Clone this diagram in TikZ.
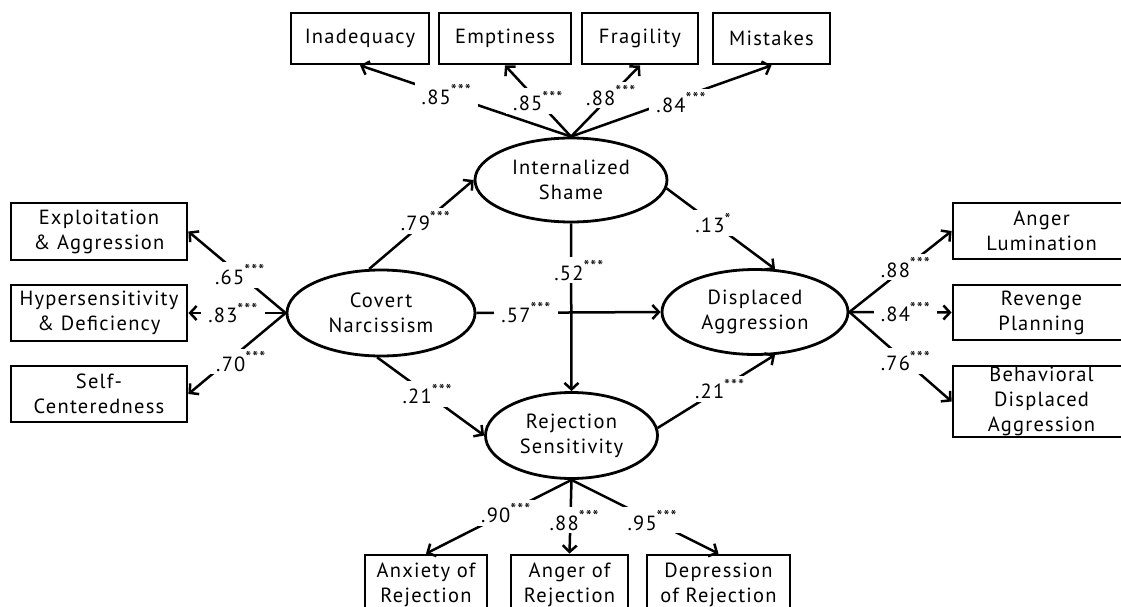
\documentclass[tikz,border=0pt]{standalone}
\usepackage{fontspec}
\setmainfont{PT Sans}[LetterSpace=6]
\usetikzlibrary{shapes.geometric,arrows.meta}
\tikzset{
  obs/.style={draw, line width=2.8pt, align=center, inner sep=0pt, font=\fontsize{20.5}{25}\selectfont},
  lat/.style={ellipse, draw, line width=2.8pt, align=center, inner sep=0pt, font=\fontsize{20.5}{25}\selectfont},
  arr/.style={line width=2.5pt, -{Straight Barb[length=6.5pt,width=14pt,line width=2.5pt]}},
  lbl/.style={fill=white, inner xsep=7pt, inner ysep=3pt, font=\fontsize{20.5}{22}\selectfont}
}
\newcommand{\sig}[2]{#1\textsuperscript{\fontsize{17}{17}\selectfont #2}}
\begin{document}
\begin{tikzpicture}[x=1pt,y=-1pt]
\useasboundingbox (0,0) rectangle (1121,607);
% latent variables
\node[lat, minimum width=192pt, minimum height=84pt] (IS) at (571,180) {Internalized\\Shame};
\node[lat, minimum width=188pt, minimum height=86pt] (CN) at (381,313) {Covert\\Narcissism};
\node[lat, minimum width=186pt, minimum height=85pt] (DA) at (755,312) {Displaced\\Aggression};
\node[lat, minimum width=172pt, minimum height=86pt] (RS) at (571.5,435.5) {Rejection\\Sensitivity};
% top indicators
\node[obs, minimum width=138pt, minimum height=51pt] (inad) at (360,38.5) {Inadequacy};
\node[obs, minimum width=132pt, minimum height=51pt] (empt) at (505,38.5) {Emptiness};
\node[obs, minimum width=116pt, minimum height=51pt] (frag) at (640,38.5) {Fragility};
\node[obs, minimum width=117pt, minimum height=51pt] (mist) at (771.5,38.5) {Mistakes};
% left indicators
\node[obs, minimum width=176pt, minimum height=57pt] (expl) at (99,231.5) {Exploitation\\\& Aggression};
\node[obs, minimum width=176pt, minimum height=56pt] (hyp) at (99,313) {Hypersensitivity\\\& Deficiency};
\node[obs, minimum width=176pt, minimum height=56pt] (selfc) at (99,394) {Self-\\Centeredness};
% right indicators
\node[obs, minimum width=177pt, minimum height=56pt] (al) at (1041.5,231) {Anger\\Lumination};
\node[obs, minimum width=177pt, minimum height=55pt] (rp) at (1041.5,312.5) {Revenge\\Planning};
\node[obs, minimum width=177pt, minimum height=71pt] (bda) at (1041.5,401.5) {Behavioral\\Displaced\\Aggression};
% bottom indicators
\node[obs, minimum width=122pt, minimum height=60pt] (anx) at (426,585) {Anxiety of\\Rejection};
\node[obs, minimum width=117pt, minimum height=60pt] (angr) at (569.5,585) {Anger of\\Rejection};
\node[obs, minimum width=143pt, minimum height=60pt] (dep) at (718.5,585) {Depression\\of Rejection};
% loadings: Internalized Shame
\draw[arr] (IS.north) -- node[lbl, pos=0.59] {\sig{.85}{***}} (inad.south);
\draw[arr] (IS.north) -- node[lbl, pos=0.5] {\sig{.85}{***}} (empt.south);
\draw[arr] (IS.north) -- node[lbl, pos=0.58] {\sig{.88}{***}} (frag.south);
\draw[arr] (IS.north) -- node[lbl, pos=0.55, yshift=-5pt] {\sig{.84}{***}} (mist.south);
% loadings: Covert Narcissism
\draw[arr] (CN.west) -- node[lbl, pos=0.47] {\sig{.65}{***}} (expl.east);
\draw[arr] (CN.west) -- node[lbl, pos=0.54] {\sig{.83}{***}} (hyp.east);
\draw[arr] (CN.west) -- node[lbl, pos=0.5, yshift=-8pt, xshift=4pt] {\sig{.70}{***}} (selfc.east);
% loadings: Displaced Aggression
\draw[arr] (DA.east) -- node[lbl, pos=0.55] {\sig{.88}{***}} (al.west);
\draw[arr] (DA.east) -- node[lbl, pos=0.55] {\sig{.84}{***}} (rp.west);
\draw[arr] (DA.east) -- node[lbl, pos=0.55] {\sig{.76}{***}} (bda.west);
% loadings: Rejection Sensitivity
\draw[arr] (RS.south) -- node[lbl, pos=0.45] {\sig{.90}{***}} (anx.north);
\draw[arr] (RS.south) -- node[lbl, pos=0.55, xshift=4pt] {\sig{.88}{***}} (angr.north);
\draw[arr] (RS.south) -- node[lbl, pos=0.55] {\sig{.95}{***}} (dep.north);
% structural paths
\draw[arr] (CN.105) -- node[lbl, pos=0.54] {\sig{.79}{***}} (IS.west);
\draw[arr] (IS.-5) -- node[lbl, pos=0.43] {\sig{.13}{*}} (DA.65);
\draw[arr] (CN.east) -- node[lbl, pos=0.27] {\sig{.57}{***}} (DA.west);
\draw[arr] (IS.south) -- node[lbl, pos=0.28, xshift=8pt] {\sig{.52}{***}} (RS.north);
\draw[arr] (CN.-95) -- node[lbl, pos=0.47] {\sig{.21}{***}} (RS.west);
\draw[arr] (RS.5) -- node[lbl, pos=0.53] {\sig{.21}{***}} (DA.-65);
\end{tikzpicture}
\end{document}
